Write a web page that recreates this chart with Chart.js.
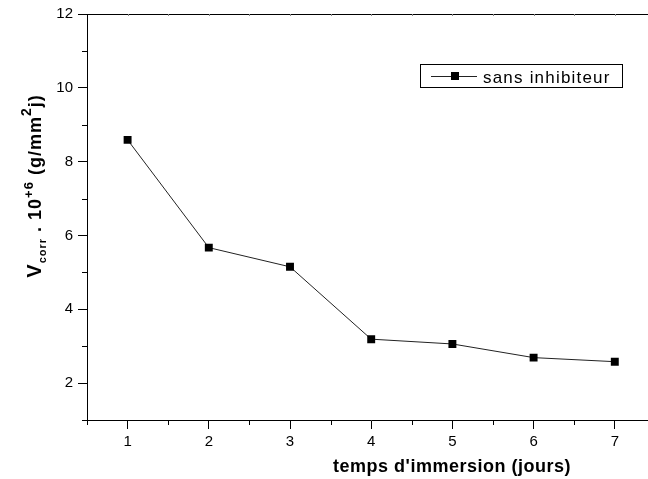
<!DOCTYPE html>
<html>
<head>
<meta charset="utf-8">
<script src="https://cdn.jsdelivr.net/npm/chart.js@4/dist/chart.umd.min.js"></script>
<style>
  html, body { margin: 0; padding: 0; background: #fff; overflow: hidden; }
  canvas { display: block; }
</style>
</head>
<body>
<canvas id="chart" width="661" height="479"></canvas>
<script>
// data
const days = [1, 2, 3, 4, 5, 6, 7];
const vcorr = [8.59, 5.67, 5.15, 3.19, 3.06, 2.69, 2.58];
const xTickLabels = [1, 2, 3, 4, 5, 6, 7];
const yTickLabels = [2, 4, 6, 8, 10, 12];
const seriesLabel = 'sans inhibiteur';
const xTitle = "temps d'immersion (jours)";

const FONT = 'Liberation Sans, Arial, sans-serif';

// frame, minor ticks, titles and the boxed legend
const extras = {
  id: 'extras',
  afterDraw(chart) {
    const ctx = chart.ctx;
    const a = chart.chartArea;
    const xs = chart.scales.x, ys = chart.scales.y;
    ctx.save();
    ctx.strokeStyle = '#000';
    ctx.lineWidth = 1;
    // top + right border
    ctx.beginPath();
    ctx.moveTo(a.left, a.top + 0.5);
    ctx.lineTo(a.right, a.top + 0.5);
    ctx.moveTo(a.right - 0.5, a.top);
    ctx.lineTo(a.right - 0.5, a.bottom);
    ctx.stroke();

    // minor ticks
    ctx.beginPath();
    for (let v = 0.5; v < 7.6; v += 1) {
      const px = Math.round(xs.getPixelForValue(v)) + 0.5;
      ctx.moveTo(px, a.bottom);
      ctx.lineTo(px, a.bottom + 5);
    }
    for (let v = 1; v < 12; v += 2) {
      const py = Math.round(ys.getPixelForValue(v)) + 0.5;
      ctx.moveTo(a.left, py);
      ctx.lineTo(a.left - 5, py);
    }
    ctx.stroke();
    // faint ticks on top axis
    ctx.strokeStyle = '#888';
    ctx.beginPath();
    for (let v = 1; v < 7.5; v += 0.5) {
      const px = Math.round(xs.getPixelForValue(v)) + 0.5;
      ctx.moveTo(px, a.top);
      ctx.lineTo(px, a.top + 2);
    }
    ctx.stroke();

    // x title
    ctx.fillStyle = '#000';
    ctx.font = 'bold 18px ' + FONT;
    ctx.letterSpacing = '0.5px';
    ctx.textAlign = 'center';
    ctx.textBaseline = 'alphabetic';
    ctx.fillText(xTitle, a.left + 365, 472);

    // y title, rotated, with sub/superscripts
    const parts = [
      { t: 'V', s: 20, dy: 0 },
      { t: 'corr', s: 11, dy: 5 },
      { t: ' . 10', s: 18, dy: 0 },
      { t: '+6', s: 13, dy: -8 },
      { t: ' (g/mm', s: 18, dy: 0 },
      { t: '2', s: 14, dy: -10 },
      { t: 'j)', s: 18, dy: 0 }
    ];
    ctx.letterSpacing = '1px';
    ctx.textAlign = 'left';
    let total = 0;
    parts.forEach(p => {
      ctx.font = 'bold ' + p.s + 'px ' + FONT;
      p.w = ctx.measureText(p.t).width;
      total += p.w;
    });
    ctx.translate(41, 186);
    ctx.rotate(-Math.PI / 2);
    let x = -total / 2;
    parts.forEach(p => {
      ctx.font = 'bold ' + p.s + 'px ' + FONT;
      ctx.fillText(p.t, x, p.dy);
      x += p.w;
    });
    ctx.restore();

    // legend box
    ctx.save();
    ctx.strokeStyle = '#000';
    ctx.lineWidth = 1;
    ctx.strokeRect(420.5, 64.5, 202, 23);
    ctx.strokeStyle = '#222';
    ctx.beginPath();
    ctx.moveTo(431, 76.5);
    ctx.lineTo(477, 76.5);
    ctx.stroke();
    ctx.fillStyle = '#000';
    ctx.fillRect(451, 72, 8, 8);
    ctx.font = '17px ' + FONT;
    ctx.letterSpacing = '1.2px';
    ctx.textBaseline = 'alphabetic';
    ctx.fillText(chart.data.datasets[0].label, 483, 83);
    ctx.restore();
  }
};

const ctx = document.getElementById('chart').getContext('2d');
new Chart(ctx, {
  type: 'line',
  data: {
    datasets: [{
      label: seriesLabel,
      data: days.map((d, i) => ({ x: d, y: vcorr[i] })),
      borderColor: '#222',
      borderWidth: 1,
      backgroundColor: '#000',
      pointStyle: 'rect',
      pointRadius: 5.6,
      pointBorderWidth: 0,
      pointBackgroundColor: '#000',
      tension: 0,
      fill: false
    }]
  },
  options: {
    responsive: false,
    animation: false,
    layout: { padding: { top: 14, right: 0, left: 0, bottom: 0 } },
    plugins: {
      legend: { display: false },
      tooltip: { enabled: false }
    },
    scales: {
      x: {
        type: 'linear',
        min: 0.5,
        max: 7.5,
        afterFit: s => { s.height = 59; },
        border: { display: true, color: '#000', width: 1 },
        grid: {
          drawOnChartArea: false,
          drawTicks: true,
          tickLength: 9,
          tickColor: c => xTickLabels.includes(c.tick.value) ? '#000' : 'rgba(0,0,0,0)'
        },
        ticks: {
          stepSize: 0.5,
          autoSkip: false,
          maxRotation: 0,
          padding: 4,
          color: '#000',
          font: { family: FONT, size: 15 },
          callback: v => xTickLabels.includes(v) ? String(v) : ''
        }
      },
      y: {
        min: 1,
        max: 12,
        afterFit: s => { s.width = 87; },
        border: { display: true, color: '#000', width: 1 },
        grid: {
          drawOnChartArea: false,
          drawTicks: true,
          tickLength: 9,
          tickColor: c => yTickLabels.includes(c.tick.value) ? '#000' : 'rgba(0,0,0,0)'
        },
        ticks: {
          stepSize: 1,
          autoSkip: false,
          padding: 5,
          color: '#000',
          font: { family: FONT, size: 15 },
          callback: v => yTickLabels.includes(v) ? String(v) : ''
        }
      }
    }
  },
  plugins: [extras]
});
</script>
</body>
</html>
